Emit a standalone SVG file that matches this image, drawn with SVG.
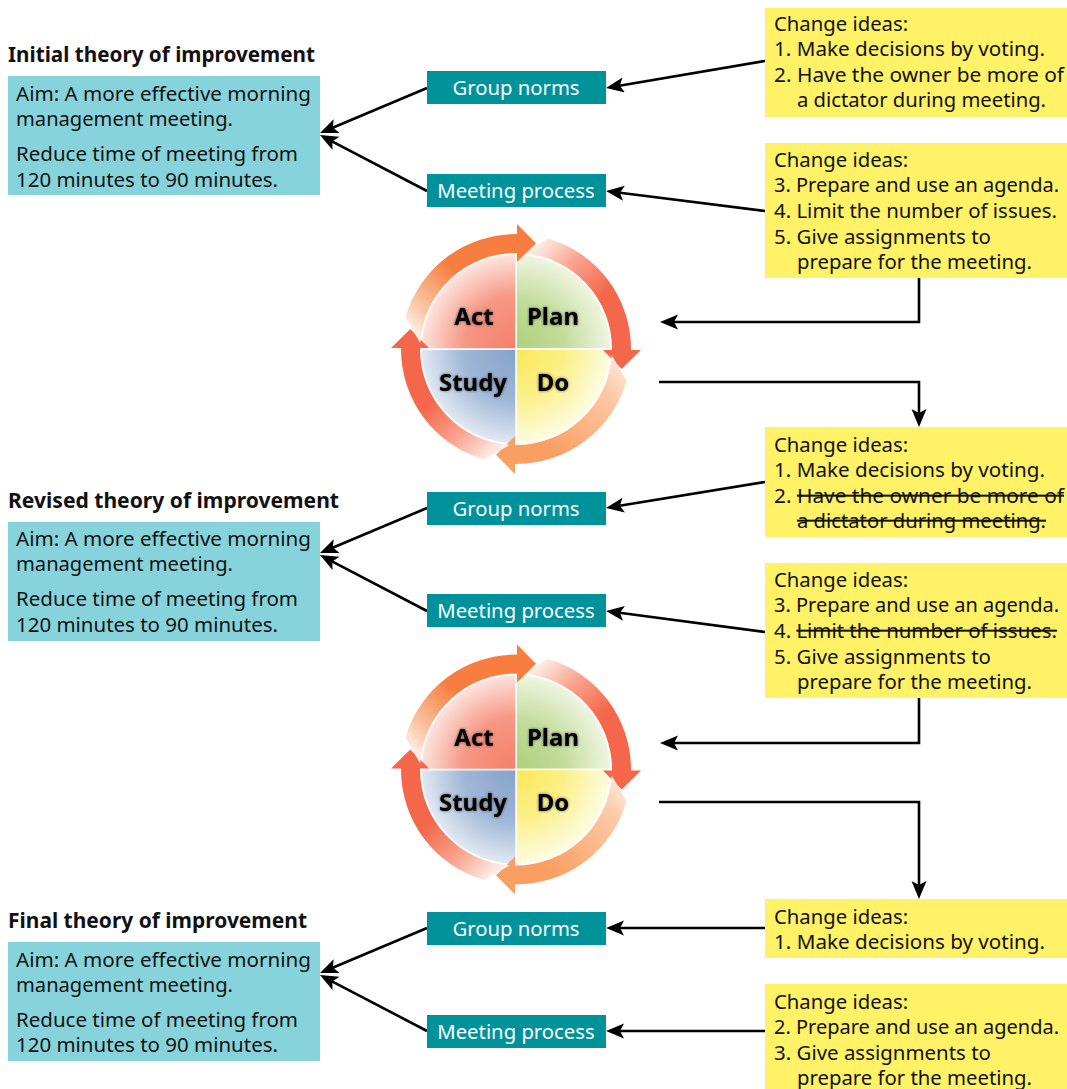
<svg xmlns="http://www.w3.org/2000/svg" xmlns:xlink="http://www.w3.org/1999/xlink" width="1067" height="1089" viewBox="0 0 1067 1089">
<style>
text{font-family:"Noto Sans","Liberation Sans",sans-serif;fill:#111}
.h{font-size:20.8px;font-weight:700}
.b{font-size:20.6px}
.y{font-size:20.3px}
.t{font-size:20.3px;fill:#fff;text-anchor:middle}
.w{font-size:24px;font-weight:700;fill:#000;text-anchor:middle;filter:url(#glow)}
.aq{fill:#87d3dc}.te{fill:#00929b}.ye{fill:#fff267}
.s{text-decoration:line-through}
.c{fill:none;stroke:#000;stroke-width:2.6;marker-end:url(#ah)}
.q{stroke:#fff;stroke-width:1.5}
</style>
<defs>
<marker id="ah" markerUnits="userSpaceOnUse" markerWidth="21" markerHeight="17" refX="12" refY="7.5" orient="auto"><path d="M0,0L18,7.5L0,15L4,7.5Z" fill="#000"/></marker>
<filter id="glow" x="-30%" y="-30%" width="160%" height="160%"><feGaussianBlur in="SourceAlpha" stdDeviation="1.6"/><feComponentTransfer><feFuncA type="linear" slope="0.6"/></feComponentTransfer><feMerge><feMergeNode/><feMergeNode in="SourceGraphic"/></feMerge></filter>
<linearGradient id="ga" gradientUnits="userSpaceOnUse" x1="15" y1="-112" x2="95" y2="-30"><stop offset="0" stop-color="#fff"/><stop offset=".15" stop-color="#fde0d6"/><stop offset=".41" stop-color="#f9a590"/><stop offset=".8" stop-color="#f4674a"/></linearGradient>
<linearGradient id="gb" gradientUnits="userSpaceOnUse" x1="15" y1="-112" x2="95" y2="-30"><stop offset="0" stop-color="#feeadf"/><stop offset=".3" stop-color="#fdc9a4"/><stop offset="1" stop-color="#fa9f62"/></linearGradient>
<linearGradient id="gc" gradientUnits="userSpaceOnUse" x1="15" y1="-112" x2="95" y2="-30"><stop offset="0" stop-color="#fff"/><stop offset=".25" stop-color="#fbc9a8"/><stop offset=".7" stop-color="#f77e40"/></linearGradient>
<radialGradient id="qp" gradientUnits="userSpaceOnUse" cx="0" cy="0" r="96"><stop offset="0" stop-color="#aed07a"/><stop offset=".5" stop-color="#c2dc9a"/><stop offset="1" stop-color="#f0f6e4"/></radialGradient>
<radialGradient id="qd" gradientUnits="userSpaceOnUse" cx="0" cy="0" r="96"><stop offset="0" stop-color="#fbe75a"/><stop offset=".5" stop-color="#fbf085"/><stop offset="1" stop-color="#fefce6"/></radialGradient>
<radialGradient id="qs" gradientUnits="userSpaceOnUse" cx="0" cy="0" r="96"><stop offset="0" stop-color="#84a2ca"/><stop offset=".55" stop-color="#a0b7d6"/><stop offset="1" stop-color="#e4eaf4"/></radialGradient>
<radialGradient id="qa" gradientUnits="userSpaceOnUse" cx="0" cy="0" r="96"><stop offset="0" stop-color="#f47f68"/><stop offset=".55" stop-color="#f69885"/><stop offset="1" stop-color="#fde6e0"/></radialGradient>
<path id="arr" d="M32,-110.5A115,115 0 0 1 115,1L125,1L105.7,20L87,1L96,1A96,96 0 0 0 6,-95.8Z"/>
<g id="wheel">
<path class="q" d="M0,0V-95A95,95 0 0 1 95,0Z" fill="url(#qp)"/>
<path class="q" d="M0,0H95A95,95 0 0 1 0,95Z" fill="url(#qd)"/>
<path class="q" d="M0,0V95A95,95 0 0 1 -95,0Z" fill="url(#qs)"/>
<path class="q" d="M0,0H-95A95,95 0 0 1 0,-95Z" fill="url(#qa)"/>
<use xlink:href="#arr" href="#arr" fill="url(#ga)"/>
<use xlink:href="#arr" href="#arr" fill="url(#gb)" transform="rotate(90)"/>
<use xlink:href="#arr" href="#arr" fill="url(#ga)" transform="rotate(180)"/>
<use xlink:href="#arr" href="#arr" fill="url(#gc)" transform="rotate(270)"/>
</g>
</defs>
<rect width="1067" height="1089" fill="#fff"/>

<g id="connectors">
<path class="c" d="M427,88L325.5,130.7"/>
<path class="c" d="M427,191L325.3,137.8"/>
<path class="c" d="M765,61L611.9,87"/>
<path class="c" d="M765,211L612,191.8"/>
<path class="c" d="M919,278V322H666"/>
<path class="c" d="M659,382H919V421"/>
<path class="c" d="M427,508L325.5,550.7"/>
<path class="c" d="M427,611L325.3,557.8"/>
<path class="c" d="M765,482L611.9,507"/>
<path class="c" d="M765,632L612,611.8"/>
<path class="c" d="M919,698V743H666"/>
<path class="c" d="M659,802H919V893"/>
<path class="c" d="M427,928L325.5,970.7"/>
<path class="c" d="M427,1031L325.3,977.8"/>
<path class="c" d="M765,928H612"/>
<path class="c" d="M765,1031H612"/>
</g>

<g id="theory-initial">
<text class="h" x="8" y="62" textLength="307" lengthAdjust="spacingAndGlyphs">Initial theory of improvement</text>
<rect class="aq" x="8" y="76" width="312" height="119"/>
<text class="b" x="16" y="100.5" textLength="295" lengthAdjust="spacingAndGlyphs">Aim: A more effective morning</text>
<text class="b" x="16" y="125.5" textLength="217" lengthAdjust="spacingAndGlyphs">management meeting.</text>
<text class="b" x="16" y="160.5" textLength="282" lengthAdjust="spacingAndGlyphs">Reduce time of meeting from</text>
<text class="b" x="16" y="186.5" textLength="262" lengthAdjust="spacingAndGlyphs">120 minutes to 90 minutes.</text>
</g>
<g id="norms-1"><rect class="te" x="427" y="71" width="179" height="33"/><text class="t" x="516" y="95">Group norms</text></g>
<g id="process-1"><rect class="te" x="427" y="174" width="179" height="33"/><text class="t" x="516" y="198">Meeting process</text></g>
<g id="ideas-1"><rect class="ye" x="765" y="8" width="302" height="109"/>
<text class="y" x="774" y="30.5">Change ideas:</text>
<text class="y" x="774" y="56" textLength="271" lengthAdjust="spacingAndGlyphs">1. Make decisions by voting.</text>
<text class="y" x="774" y="82" textLength="290" lengthAdjust="spacingAndGlyphs">2. Have the owner be more of</text>
<text class="y" x="797" y="107" textLength="249" lengthAdjust="spacingAndGlyphs">a dictator during meeting.</text></g>
<g id="ideas-2"><rect class="ye" x="765" y="143" width="302" height="135"/>
<text class="y" x="774" y="167">Change ideas:</text>
<text class="y" x="774" y="192" textLength="285" lengthAdjust="spacingAndGlyphs">3. Prepare and use an agenda.</text>
<text class="y" x="774" y="218" textLength="283" lengthAdjust="spacingAndGlyphs">4. Limit the number of issues.</text>
<text class="y" x="774" y="244" textLength="217" lengthAdjust="spacingAndGlyphs">5. Give assignments to</text>
<text class="y" x="797" y="269" textLength="235" lengthAdjust="spacingAndGlyphs">prepare for the meeting.</text></g>
<g id="pdsa-1"><use xlink:href="#wheel" href="#wheel" transform="translate(516,349)"/>
<text class="w" x="474" y="325">Act</text><text class="w" x="553" y="325">Plan</text><text class="w" x="473" y="391">Study</text><text class="w" x="553" y="391">Do</text></g>

<g id="theory-revised">
<text class="h" x="8" y="508" textLength="331" lengthAdjust="spacingAndGlyphs">Revised theory of improvement</text>
<rect class="aq" x="8" y="522" width="312" height="119"/>
<text class="b" x="16" y="545.5" textLength="295" lengthAdjust="spacingAndGlyphs">Aim: A more effective morning</text>
<text class="b" x="16" y="570.5" textLength="217" lengthAdjust="spacingAndGlyphs">management meeting.</text>
<text class="b" x="16" y="605.5" textLength="282" lengthAdjust="spacingAndGlyphs">Reduce time of meeting from</text>
<text class="b" x="16" y="631.5" textLength="262" lengthAdjust="spacingAndGlyphs">120 minutes to 90 minutes.</text>
</g>
<g id="norms-2"><rect class="te" x="427" y="492" width="179" height="33"/><text class="t" x="516" y="516">Group norms</text></g>
<g id="process-2"><rect class="te" x="427" y="594" width="179" height="33"/><text class="t" x="516" y="618">Meeting process</text></g>
<g id="ideas-3"><rect class="ye" x="765" y="427" width="302" height="110"/>
<text class="y" x="774" y="452">Change ideas:</text>
<text class="y" x="774" y="477" textLength="271" lengthAdjust="spacingAndGlyphs">1. Make decisions by voting.</text>
<text class="y" x="774" y="503" textLength="290" lengthAdjust="spacingAndGlyphs">2. <tspan class="s">Have the owner be more of</tspan></text>
<text class="y s" x="797" y="528" textLength="249" lengthAdjust="spacingAndGlyphs">a dictator during meeting.</text></g>
<g id="ideas-4"><rect class="ye" x="765" y="563" width="302" height="135"/>
<text class="y" x="774" y="587">Change ideas:</text>
<text class="y" x="774" y="612" textLength="285" lengthAdjust="spacingAndGlyphs">3. Prepare and use an agenda.</text>
<text class="y" x="774" y="638" textLength="283" lengthAdjust="spacingAndGlyphs">4. <tspan class="s">Limit the number of issues.</tspan></text>
<text class="y" x="774" y="664" textLength="217" lengthAdjust="spacingAndGlyphs">5. Give assignments to</text>
<text class="y" x="797" y="689" textLength="235" lengthAdjust="spacingAndGlyphs">prepare for the meeting.</text></g>
<g id="pdsa-2"><use xlink:href="#wheel" href="#wheel" transform="translate(516,769.5)"/>
<text class="w" x="474" y="746">Act</text><text class="w" x="553" y="746">Plan</text><text class="w" x="473" y="811">Study</text><text class="w" x="553" y="811">Do</text></g>

<g id="theory-final">
<text class="h" x="8" y="928" textLength="299" lengthAdjust="spacingAndGlyphs">Final theory of improvement</text>
<rect class="aq" x="8" y="942" width="312" height="119"/>
<text class="b" x="16" y="966.5" textLength="295" lengthAdjust="spacingAndGlyphs">Aim: A more effective morning</text>
<text class="b" x="16" y="991.5" textLength="217" lengthAdjust="spacingAndGlyphs">management meeting.</text>
<text class="b" x="16" y="1026.5" textLength="282" lengthAdjust="spacingAndGlyphs">Reduce time of meeting from</text>
<text class="b" x="16" y="1052" textLength="262" lengthAdjust="spacingAndGlyphs">120 minutes to 90 minutes.</text>
</g>
<g id="norms-3"><rect class="te" x="427" y="912" width="179" height="33"/><text class="t" x="516" y="936">Group norms</text></g>
<g id="process-3"><rect class="te" x="427" y="1015" width="179" height="33"/><text class="t" x="516" y="1039">Meeting process</text></g>
<g id="ideas-5"><rect class="ye" x="765" y="899" width="302" height="59"/>
<text class="y" x="774" y="924">Change ideas:</text>
<text class="y" x="774" y="949" textLength="271" lengthAdjust="spacingAndGlyphs">1. Make decisions by voting.</text></g>
<g id="ideas-6"><rect class="ye" x="765" y="984" width="302" height="105"/>
<text class="y" x="774" y="1009">Change ideas:</text>
<text class="y" x="774" y="1034" textLength="285" lengthAdjust="spacingAndGlyphs">2. Prepare and use an agenda.</text>
<text class="y" x="774" y="1060" textLength="217" lengthAdjust="spacingAndGlyphs">3. Give assignments to</text>
<text class="y" x="797" y="1085" textLength="235" lengthAdjust="spacingAndGlyphs">prepare for the meeting.</text></g>
</svg>
